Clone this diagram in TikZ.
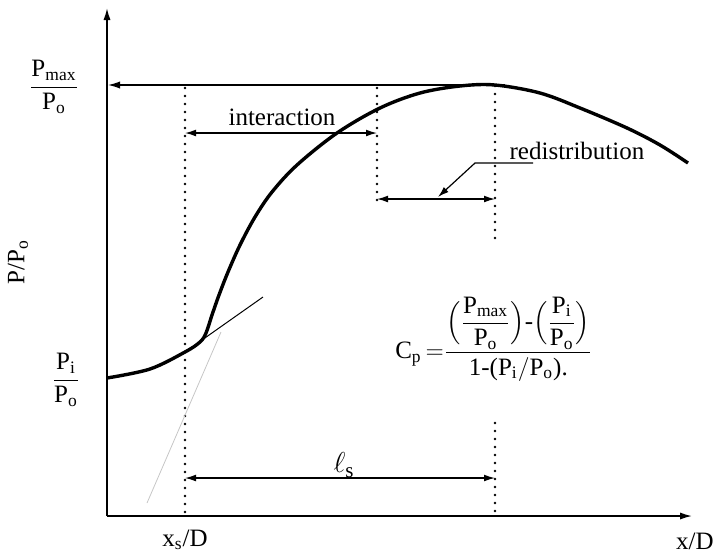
\documentclass[tikz,border=0pt]{standalone}
\usepackage{amsmath}
\usepackage{fontspec}
\setmainfont{Liberation Serif}
\usetikzlibrary{positioning,arrows.meta}
\tikzset{
  ax/.style={-{Latex[length=6pt,width=3.6pt]},line width=0.8pt},
  dimarr/.style={{Latex[length=5.5pt,width=3.4pt]}-{Latex[length=5.5pt,width=3.4pt]},line width=0.6pt},
  dots/.style={line width=1.3pt,dash pattern=on 0pt off 4pt,line cap=round},
  crv/.style={line width=1.7pt,line join=round},
  lbl/.style={font=\fontsize{12.5}{15}\selectfont,inner sep=1pt},
}
\newcommand{\tP}{\text{P}}
\newcommand{\sub}[1]{_{\text{#1}}}
\begin{document}
\begin{tikzpicture}[x=0.5pt,y=-0.5pt]
\useasboundingbox (0,0) rectangle (716,553);
% axes
\coordinate (o) at (107,516);
\coordinate (ytop) at (107,8);
\coordinate (xend) at (692,516);
\draw[ax] (o) -- (ytop);
\draw[ax] (o) -- (xend);
% maximum line
\coordinate (pk) at (505,85);
\coordinate (pky) at (108,85);
\draw[ax,line width=0.6pt] (pk) -- (pky);
% dotted limits
\coordinate (xsb) at (185,516);
\coordinate (xst) at (185,88);
\coordinate (xmb) at (377,203);
\coordinate (xmt) at (377,88);
\coordinate (xpt) at (495,86);
\coordinate (xpm) at (495,243);
\coordinate (xpl) at (495,423);
\coordinate (xpb) at (495,516);
\draw[dots] (xst) -- (xsb);
\draw[dots] (xmt) -- (xmb);
\draw[dots] (xpt) -- (xpm);
\draw[dots] (xpl) -- (xpb);
% curve
\draw[crv] plot[smooth,tension=0.55] coordinates {(107,378) (150,369) (185,352) (200,342) (206,333) (212,315) (219,295) (228,272) (240,245) (255,217) (272,192) (297,165) (337,133) (380,108) (420,93) (460,86) (495,85) (540,93) (580,108) (627,128) (660,145) (688,163)};
% tangent
\coordinate (t1) at (202,340);
\coordinate (t2) at (263,297);
\draw[line width=0.5pt] (t1) -- (t2);
\coordinate (f1) at (147,503);
\coordinate (f2) at (221,332);
\draw[gray!45,line width=0.4pt] (f1) -- (f2);
% dimensions
\coordinate (ia) at (185,133);
\coordinate (ib) at (377,133);
\draw[dimarr] (ia) -- (ib);
\coordinate (ra) at (377,199);
\coordinate (rb) at (495,199);
\draw[dimarr] (ra) -- (rb);
\coordinate (la) at (185,478);
\coordinate (lb) at (495,478);
\draw[dimarr] (la) -- (lb);
% labels
\node[lbl] (inter) at (282,117) {interaction};
\node[lbl] (redis) at (577,151) {redistribution};
\coordinate (rl1) at (533,163);
\coordinate (rl2) at (475,163);
\coordinate (rl3) at (438,197);
\draw[-{Latex[length=5.5pt,width=3.4pt]},line width=0.6pt] (rl1) -- (rl2) -- (rl3);
\node[lbl,font=\fontsize{15}{17}\selectfont] (ls) at (344,465) {$\ell\sub{s}$};
\node[lbl] (pmax) at (54,87) {$\dfrac{\tP\sub{max}}{\tP\sub{o}}$};
\node[lbl] (pi) at (66,380) {$\dfrac{\tP\sub{i}}{\tP\sub{o}}$};
\node[lbl,rotate=90] (ylab) at (18,262) {P/P$\sub{o}$};
\node[lbl] (xslab) at (185,540) {x$\sub{s}$/D};
\node[lbl,anchor=east] (xlab) at (716,541) {x/D};
\node[lbl] (cp) at (494,339) {$\text{C}\sub{p}\,{=}\dfrac{\Bigl(\dfrac{\tP\sub{max}}{\tP\sub{o}}\Bigr)\text{-}\Bigl(\dfrac{\tP\sub{i}}{\tP\sub{o}}\Bigr)}{\text{1-(}\tP\sub{i}/\tP\sub{o}\text{).}}$};
\end{tikzpicture}
\end{document}
